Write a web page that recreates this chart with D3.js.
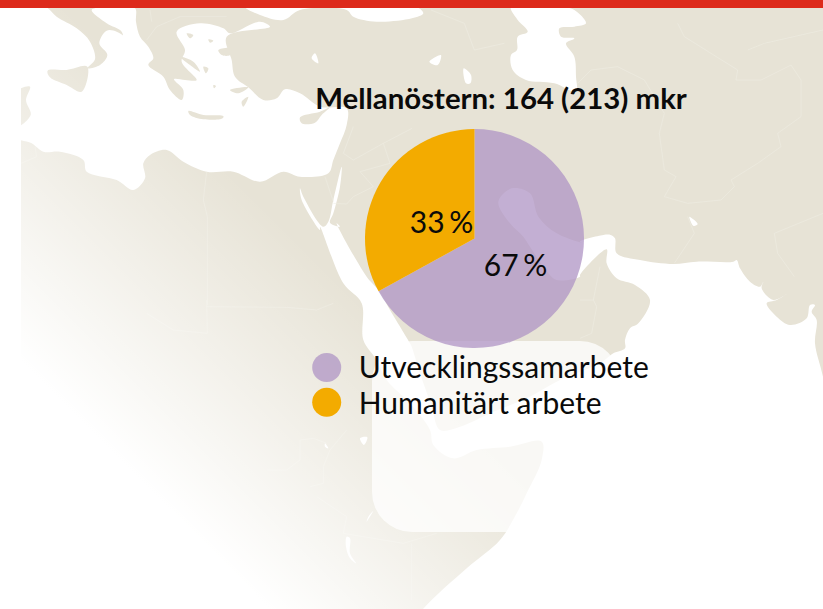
<!DOCTYPE html>
<html><head><meta charset="utf-8">
<script src="https://cdn.jsdelivr.net/npm/d3@7/dist/d3.min.js"></script>
<style>html,body{margin:0;padding:0;background:#fff}svg{display:block}text{font-family:Lato,sans-serif;fill:#0a0a0a}</style>
</head><body><svg id="c" width="823" height="609"></svg>
<script>
// Chart data
const title = "Mellanöstern: 164 (213) mkr";
const categories = ["Utvecklingssamarbete", "Humanitärt arbete"];
const values = [67, 33];
const colors = ["#af94c4", "#f3ab00"];
const opacities = [0.75, 1];

// Backdrop map, traced in crop coordinates (crop origin, 3x crop points)
const medSea = [[40,20],[135,20],[170,50],[230,85],[270,125],[285,178],[262,205],[300,195],[322,165],[298,130],[320,92],[350,95],[372,110],[372,125],[365,95],[320,70],[275,30],[340,20],[405,25],[408,65],[420,110],[445,140],[460,175],[445,195],[490,230],[510,270],[545,300],[550,270],[522,238],[555,240],[590,240],[545,185],[555,150],[530,95],[600,70],[670,85],[690,100],[780,65],[810,80],[680,110],[695,180],[705,230],[745,262],[790,300],[830,295],[855,268],[900,280],[960,320],[1040,325],[1040,375],[1020,430],[1000,480],[985,520],[900,530],[850,515],[780,545],[700,515],[620,515],[550,485],[500,450],[450,465],[430,490],[435,535],[400,570],[350,540],[260,515],[250,480],[180,455],[130,455],[95,430],[40,405]];
const crete = [[565,333],[610,345],[670,348],[668,355],[610,358],[570,345]];
const cyprus = [[900,352],[960,335],[990,322],[965,345],[945,368],[905,370]];
const sicily = [[143,212],[200,210],[262,200],[245,275],[200,255],[150,232]];
const sardinia = [[50,275],[90,260],[78,300],[92,345],[50,380]];
const aegeanIslands = [[[560,100],[580,105],[570,115]],[[625,118],[640,122],[630,128]],[[655,150],[695,145],[690,165],[665,165]],[[540,170],[580,185],[600,215],[570,195]],[[610,200],[625,205],[618,220]],[[640,255],[648,258],[642,265]],[[690,270],[745,262],[715,280]],[[725,305],[745,290],[730,320]]];
const blackSea = [[735,20],[780,45],[850,60],[900,30],[1040,30],[1060,50],[1130,65],[1236,55],[1270,40],[1236,15]];
const caspian = [[300,20],[320,60],[350,95],[320,110],[318,150],[300,165],[305,210],[345,240],[430,250],[495,275],[495,230],[490,170],[465,130],[490,115],[450,110],[445,85],[490,80],[525,70],[490,30],[445,20]];
const lakes = [[[55,185],[90,165],[80,195]],[[158,205],[180,225],[178,250],[165,250]],[[835,650],[860,672],[848,678]]];
const lakesAfrica = [[[975,430],[985,445],[975,440]],[[1080,415],[1102,412],[1092,435]],[[1040,710],[1050,715],[1050,760],[1068,790],[1050,775],[1038,740]],[[1120,632],[1100,665],[1105,650]]];

const seg = (ox, oy, pts) => pts.map(([x, y]) => [ox + x / 3, oy + y / 3]);
const ocean = [].concat(
  seg(290,70,[[665,355],[720,370],[745,440],[800,490],[880,520]]),
  seg(580,220,[[0,65],[70,45],[92,45],[105,55],[110,100],[180,120],[280,132],[350,125],[460,125],[470,120],[480,145],[510,185],[540,200],[550,185],[545,205],[580,240],[620,222],[590,240],[560,250],[590,290],[630,315],[680,295],[690,255],[705,255],[695,275],[710,300],[705,370],[729,470]]),
  [[840,460],[850,640],[400,640]],
  [[423,609],[467,568],[500,540]],
  seg(360,330,[[470,550],[500,490],[545,390],[545,335],[450,350],[350,360],[280,385],[220,345],[210,300],[150,220],[80,150],[50,90],[10,30]]),
  seg(290,70,[[215,700],[160,640],[90,470]]),
  seg(0,0,[[960,690],[905,600],[900,565],[910,590],[970,680],[985,665],[1000,600],[1025,500],[1020,560],[1000,640],[990,668],[1020,680]]),
  seg(290,70,[[140,460],[230,620],[265,660],[300,720],[360,820]]),
  seg(360,330,[[155,50],[180,130],[215,230],[240,300],[300,290],[400,245],[500,205],[600,150],[720,100],[760,70]]),
  seg(580,220,[[135,385],[135,360],[150,325],[175,310],[210,240],[165,195],[110,175],[80,130],[80,88],[0,165]]),
  seg(290,70,[[870,620],[800,630],[775,610],[720,530],[700,500],[660,460],[625,395]])
);
const borders = [
  seg(411,0,[[500,250],[540,210],[620,200],[700,240],[760,340],[745,400],[760,510],[795,530],[760,590],[830,610],[930,600],[970,560],[960,540],[1040,490],[1110,440],[1100,400],[1170,350],[1170,240],[1140,195],[1050,240],[975,240],[980,210],[820,110],[800,70]]),
  seg(411,0,[[830,650],[850,700],[790,790]]),
  seg(411,0,[[1236,640],[1090,700],[1100,760],[1150,830]]),
  seg(411,0,[[1010,150],[1060,130],[1236,90]]),
  seg(411,0,[[60,30],[160,70],[190,150],[280,130]]),
  seg(0,0,[[620,515],[610,600],[622,650],[622,915]]),
  seg(0,0,[[1060,380],[1030,460],[1060,480],[1150,430],[1236,385]]),
  seg(0,0,[[1150,430],[1170,490],[1080,515],[1120,560],[1060,590],[1040,612],[1000,610]]),
  seg(0,0,[[975,530],[1000,605]]),
  seg(0,0,[[440,120],[470,80],[540,50],[680,50]]),
  seg(0,0,[[450,30],[455,65]]),
  seg(0,0,[[63,490],[110,470],[105,440]]),
  seg(580,220,[[60,140],[40,240],[50,260],[35,340],[0,355]]),
  seg(580,220,[[0,240],[40,240]]),
  seg(0,300,[[620,0],[622,100],[520,90],[440,40]]),
  seg(0,300,[[620,20],[860,22],[950,30],[1000,10]]),
  seg(0,300,[[1040,390],[990,450],[970,500],[970,550],[930,560]]),
  seg(0,300,[[900,420],[940,415],[980,430]]),
  seg(0,300,[[800,510],[860,510],[900,480],[900,420]]),
  seg(0,300,[[950,590],[1040,650],[1030,700],[1210,730],[1310,700]]),
  seg(0,300,[[1235,730],[1235,900]])
];

const svg = d3.select("#c");
const closed = d3.line().curve(d3.curveCatmullRomClosed.alpha(0.5));
const open = d3.line().curve(d3.curveLinear);
const LAND = "#e7e3d6";
const defs = svg.append("defs");
defs.append("clipPath").attr("id","mapClip").append("rect").attr("x",21).attr("y",8).attr("width",802).attr("height",601);
const g = defs.append("linearGradient").attr("id","fade").attr("gradientUnits","userSpaceOnUse")
  .attr("x1",330).attr("y1",270).attr("x2",130).attr("y2",470);
g.append("stop").attr("offset",0).attr("stop-color","#fff").attr("stop-opacity",0);
g.append("stop").attr("offset",1).attr("stop-color","#fff").attr("stop-opacity",1);

const map = svg.append("g").attr("clip-path","url(#mapClip)");
map.append("rect").attr("x",21).attr("y",8).attr("width",802).attr("height",601).attr("fill",LAND);
const white = [seg(0,0,medSea), seg(0,0,blackSea), seg(411,0,caspian), ocean]
  .concat(lakes.map(l => seg(411,0,l)), lakesAfrica.map(l => seg(0,300,l)),
          [seg(0,0,[[935,175],[945,160],[955,190]])]);
map.selectAll("path.sea").data(white).join("path").attr("class","sea").attr("d",closed).attr("fill","#fff");
map.selectAll("path.isl").data([crete,cyprus,sicily,sardinia].concat(aegeanIslands).map(r => seg(0,0,r))).join("path").attr("class","isl").attr("d",closed).attr("fill",LAND);
map.selectAll("path.bd").data(borders).join("path").attr("class","bd").attr("d",open).attr("fill","none").attr("stroke","#efece3").attr("stroke-width",0.6);
map.append("rect").attr("x",21).attr("y",8).attr("width",802).attr("height",601).attr("fill","url(#fade)");
map.append("rect").attr("x",372).attr("y",341).attr("width",248).attr("height",191).attr("rx",40).attr("ry",40).attr("fill","#fff").attr("fill-opacity",0.75);

// Top bar
svg.append("rect").attr("width",823).attr("height",8).attr("fill","#dd2a1b");

// Pie
const cx = 474.5, cy = 238.5, R = 109.5;
const pie = d3.pie().sort(null).value(d => d)(values);
const arc = d3.arc().innerRadius(0).outerRadius(R);
const pg = svg.append("g").attr("transform",`translate(${cx},${cy})`);
pg.selectAll("path").data(pie).join("path").attr("d",arc)
  .attr("fill",(d,i) => colors[i]).attr("fill-opacity",(d,i) => opacities[i]);
const labelPos = [[41,37],[-33,-6]];
pg.selectAll("text").data(pie).join("text")
  .attr("x",(d,i) => labelPos[i][0]).attr("y",(d,i) => labelPos[i][1])
  .attr("text-anchor","middle").attr("font-size",30).attr("word-spacing",-3)
  .text(d => d.data + " %");

// Title
svg.append("text").attr("x",501).attr("y",109).attr("text-anchor","middle")
  .attr("font-size",29.4).attr("font-weight",700).text(title);

// Legend
const legendTextY = [10.2, 12];
const leg = svg.append("g").selectAll("g").data(categories).join("g")
  .attr("transform",(d,i) => `translate(326.7,${367.5 + i*34.8})`);
leg.append("circle").attr("r",14.5).attr("fill",(d,i) => colors[i]).attr("fill-opacity",(d,i) => opacities[i]);
leg.append("text").attr("x",32).attr("y",(d,i) => legendTextY[i]).attr("font-size",30).text(d => d);
</script></body></html>
